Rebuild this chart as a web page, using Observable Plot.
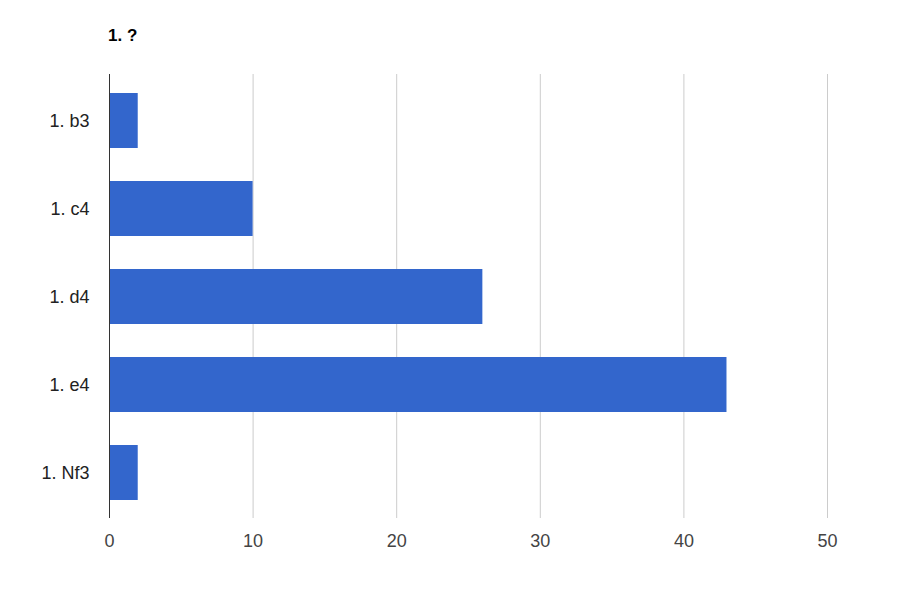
<!DOCTYPE html>
<html>
<head>
<meta charset="utf-8">
<script src="https://cdn.jsdelivr.net/npm/d3@7"></script>
<script src="https://cdn.jsdelivr.net/npm/@observablehq/plot@0.6"></script>
<style>
  html, body { margin: 0; padding: 0; background: #fff; }
  #wrap { position: relative; width: 920px; height: 592px; font-family: "Liberation Sans", Arial, sans-serif; }
  #title { position: absolute; left: 108px; top: 26px; font-size: 17px; font-weight: bold; color: #000; line-height: 20px; }
  #chart { position: absolute; left: 0; top: 0; }
</style>
</head>
<body>
<div id="wrap">
  <div id="chart"></div>
  <div id="title">1. ?</div>
</div>
<script>
const chartTitle = "1. ?";
const moves = ["1. b3", "1. c4", "1. d4", "1. e4", "1. Nf3"];
const counts = [2, 10, 26, 43, 2];
const xTicks = [0, 10, 20, 30, 40, 50];

const data = moves.map((m, i) => ({ move: m, count: counts[i] }));
document.getElementById("title").textContent = chartTitle;

const chart = Plot.plot({
  width: 920,
  height: 592,
  marginLeft: 109,
  marginRight: 93,
  marginTop: 74,
  marginBottom: 74,
  style: { fontFamily: '"Liberation Sans", Arial, sans-serif', fontSize: "18px", background: "#fff", overflow: "visible" },
  x: { domain: [0, 50], ticks: xTicks, label: null },
  y: { domain: moves, paddingInner: 0.38, paddingOuter: 0.19, label: null },
  marks: [
    Plot.gridX(xTicks.filter(t => t > 0), { stroke: "#cccccc", strokeOpacity: 1, strokeWidth: 1 }),
    Plot.barX(data, { x: "count", y: "move", fill: "#3366cc" }),
    Plot.ruleX([0], { stroke: "#333333", strokeWidth: 1 }),
    Plot.axisX(xTicks, { tickSize: 0, tickPadding: 16, fontSize: 18, fill: "#444444", label: null }),
    Plot.axisY({ tickSize: 0, tickPadding: 20, fontSize: 18, fill: "#222222", label: null })
  ]
});
document.getElementById("chart").appendChild(chart);
</script>
</body>
</html>
